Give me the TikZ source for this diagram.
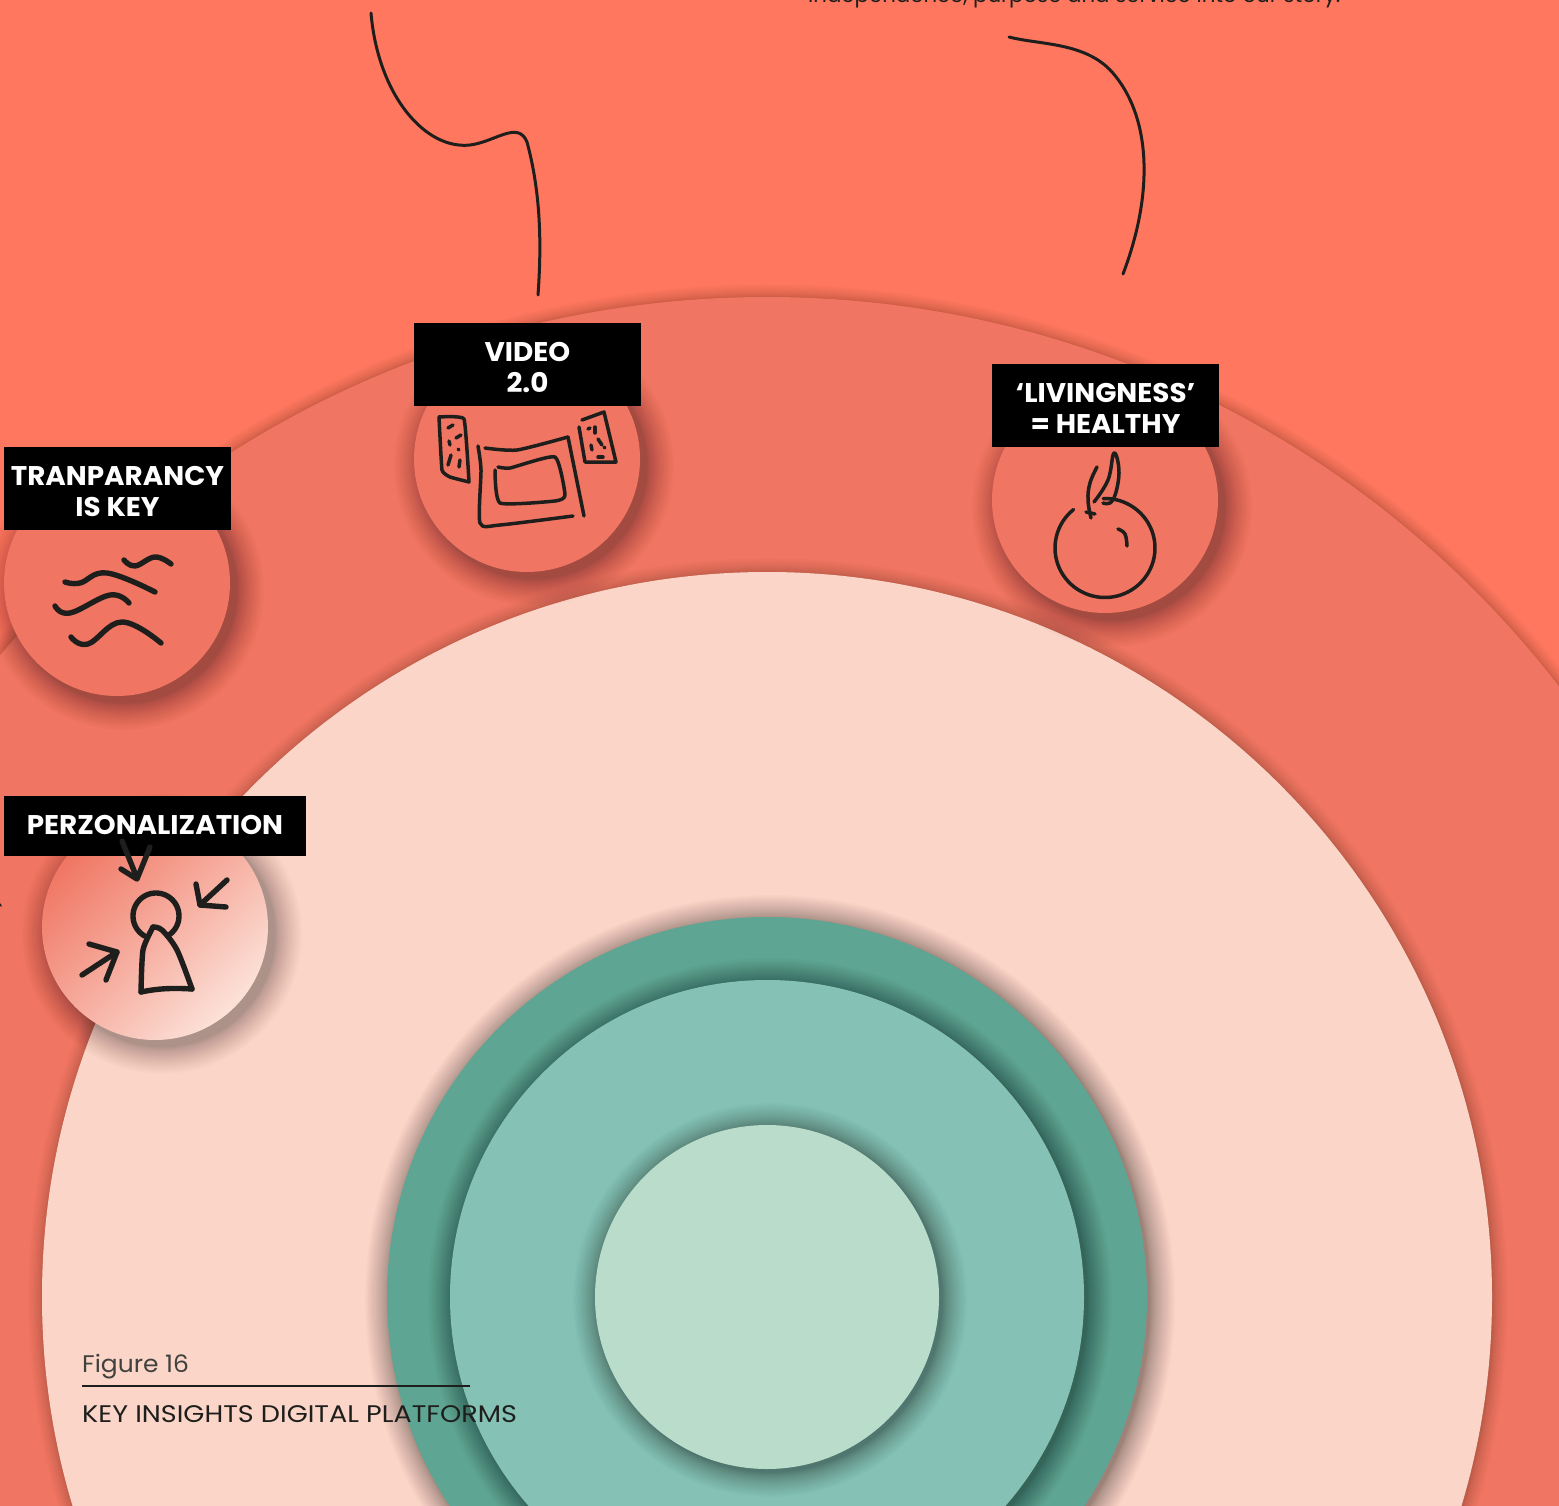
\documentclass[tikz,border=0pt]{standalone}
\usepackage{fontspec}
\setmainfont{Poppins}
\newfontfamily\lblfont{Poppins}[FakeStretch=1.03]
\newfontfamily\titlefont{Poppins}[FakeStretch=1.127]
\newfontfamily\figfont{Poppins}[FakeStretch=1.04]
\usetikzlibrary{calc}
\definecolor{bgc}{HTML}{FF775F}
\definecolor{sal}{HTML}{F07562}
\definecolor{pale}{HTML}{FBD5C8}
\definecolor{dteal}{HTML}{5FA593}
\definecolor{mteal}{HTML}{85C2B5}
\definecolor{lteal}{HTML}{BADCCB}
\definecolor{ink}{HTML}{1E1F1C}
\newcommand{\softdisc}[7]{% x y r dx blur opacity fillspec
  \foreach \k in {1,...,26}{
    \fill[black,opacity=#6] ({#1+#4},{#2+#4}) circle[radius={#3+#5*((27-\k)/26)^1.5}];
  }
  \path[#7] (#1,#2) circle[radius=#3];
}
\tikzset{
  x=1pt,y=-1pt,
  lblbox/.style={fill=black,inner sep=0pt,anchor=center},
  lbltext/.style={text=white,font=\lblfont\bfseries\fontsize{27}{31.5}\selectfont,align=center,inner sep=0pt,anchor=center},
  icon/.style={draw=ink,line width=3.5pt,line cap=round,line join=round},
  thick icon/.style={draw=ink,line width=5.4pt,line cap=round,line join=round},
  lead/.style={draw=ink,line width=3pt,line cap=round},
  captext/.style={text=ink,anchor=base west,inner sep=0pt},
}
\begin{document}
\begin{tikzpicture}
\path[use as bounding box] (0,0) rectangle (1559,1506);
\clip (0,0) rectangle (1559,1506);
\fill[bgc] (0,0) rectangle (1559,1506);
% concentric discs
\softdisc{767}{1297}{1000}{0}{13}{0.009}{fill=sal}
\softdisc{767}{1297}{725}{1}{15}{0.009}{fill=pale}
\softdisc{767}{1297}{380}{3}{25}{0.014}{fill=dteal}
\softdisc{767}{1297}{317}{3}{25}{0.014}{fill=mteal}
\softdisc{767}{1297}{172}{3}{25}{0.014}{fill=lteal}
% small discs
\softdisc{117}{583}{113}{7}{27}{0.012}{fill=sal}
\softdisc{527}{459}{113}{7}{27}{0.012}{fill=sal}
\softdisc{1105}{500}{113}{7}{27}{0.012}{fill=sal}
\softdisc{155}{927}{113}{7}{27}{0.012}{left color=sal,right color=pale!70!white,shading angle=45}
% top text fragment
\node[captext,font=\fontsize{21.3}{26}\selectfont] (toptext) at (808,3) {independence, purpose and service into our story.};
% connectors
\coordinate (l1a) at (371,13);
\coordinate (l1b) at (538,295);
\coordinate (l2a) at (1009,37);
\coordinate (l2b) at (1123,274);
\draw[lead] (l1a) .. controls (378,95) and (425,150) .. (470,145)
  .. controls (495,142) and (518,120) .. (527,142)
  .. controls (540,190) and (542,240) .. (l1b);
\draw[lead] (l2a) .. controls (1040,45) and (1085,42) .. (1112,72)
  .. controls (1150,115) and (1155,190) .. (l2b);
% labels
\node[lblbox,minimum width=227pt,minimum height=83pt] (transp) at (117.5,488.5) {};
\node[lbltext,yshift=-3pt] (transpt) at (transp.center) {TRANPARANCY\\IS KEY};
\node[lblbox,minimum width=227pt,minimum height=83pt] (video) at (527.5,364.5) {};
\node[lbltext,yshift=-3pt] (videot) at (video.center) {VIDEO\\2.0};
\node[lblbox,minimum width=227pt,minimum height=83pt] (living) at (1105.5,405.5) {};
\node[lbltext,yshift=-3pt] (livingt) at (living.center) {‘LIVINGNESS’\\= HEALTHY};
\node[lblbox,minimum width=302pt,minimum height=60pt] (perz) at (155,826) {};
\node[lbltext,yshift=1pt] (perzt) at (perz.center) {PERZONALIZATION};
% waves
\begin{scope}[thick icon]
\draw plot[smooth,tension=.7] coordinates {(65,582)(80,583)(107,573)(155,592)};
\draw plot[smooth,tension=.7] coordinates {(124,560)(135,566)(155,557)(171,564)};
\draw plot[smooth,tension=.7] coordinates {(55,606)(70,613)(110,595)(129,603)};
\draw plot[smooth,tension=.7] coordinates {(71,637)(88,644)(122,622)(161,643)};
\end{scope}
% video icon
\begin{scope}[icon]
\draw plot[smooth,tension=.2] coordinates {(439,417)(464,419)(469,482)};
\draw plot[smooth,tension=.2] coordinates {(439,417)(442,470)(450,477)(469,482)};
\draw plot[smooth,tension=.4] coordinates {(478,446)(481,470)(480,523)(500,525)(573,516)};
\draw plot[smooth,tension=.4] coordinates {(485,448)(517,450)(568,437)};
\draw (568,437) -- (584,516);
\draw plot[smooth,tension=.3] coordinates {(498,467)(510,468)(555,457)(565,495)(555,501)(500,503)(495,470)};
\draw (582,420) -- (604,412) -- (616,462) -- (585,462) -- (579,427);
\draw (448,428)--(453,425); \draw (456,438)--(461,435); \draw (449,441)--(450,445);
\draw (458,449)--(459,450); \draw (451,455)--(448,465); \draw (460,460)--(459,467);
\draw (588,429)--(590,428); \draw (595,427)--(595,433); \draw (598,439)--(602,445);
\draw (591,445)--(592,450); \draw (604,447)--(605,448); \draw (598,457)--(603,457);
\end{scope}
% apple icon
\begin{scope}[icon]
\draw plot[domain=129:452,samples=70] ({1105+50*cos(\x)},{548-49.5*sin(\x)});
\draw plot[smooth,tension=.7] coordinates {(1097,467)(1090,483)(1088,500)(1091,518)};
\draw plot[smooth,tension=.7] coordinates {(1094,502)(1108,480)(1114,453)(1119,473)(1113,500)(1103,503)};
\draw (1086,512) -- (1095,514);
\draw plot[smooth,tension=.7] coordinates {(1118,529)(1125,534)(1127,546)};
\end{scope}
% person icon
\begin{scope}[thick icon]
\draw plot[domain=-60:240,samples=50] ({156+23*cos(\x)},{916-23*sin(\x)});
\draw plot[smooth,tension=.4] coordinates {(153,927)(143,950)(141,992)};
\draw (141,992) .. controls (160,988) and (175,988) .. (192,989);
\draw plot[smooth,tension=.5] coordinates {(192,989)(177,950)(162,930)(153,927)};
\draw (122,841) -- (137,878);
\draw (121,869) -- (137,879) -- (150,847);
\draw (227,880) -- (200,905);
\draw (196,884) -- (200,905) -- (226,907);
\draw (82,975) -- (117,952);
\draw (89,944) -- (117,952) -- (106,980);
\end{scope}
% stray tick at the left edge
\draw[icon,line width=1.5pt] (0,904) -- (1,906);
% caption
\node[captext,font=\figfont\fontsize{24}{28}\selectfont,text=ink!85!white] (figno) at (82,1372) {Figure 16};
\coordinate (rulea) at (82,1386);
\coordinate (ruleb) at (470,1386);
\draw[ink,line width=1.8pt] (rulea) -- (ruleb);
\node[captext,font=\titlefont\fontsize{24}{28}\selectfont] (figtitle) at (82,1422) {KEY INSIGHTS DIGITAL PLATFORMS};
\end{tikzpicture}
\end{document}
